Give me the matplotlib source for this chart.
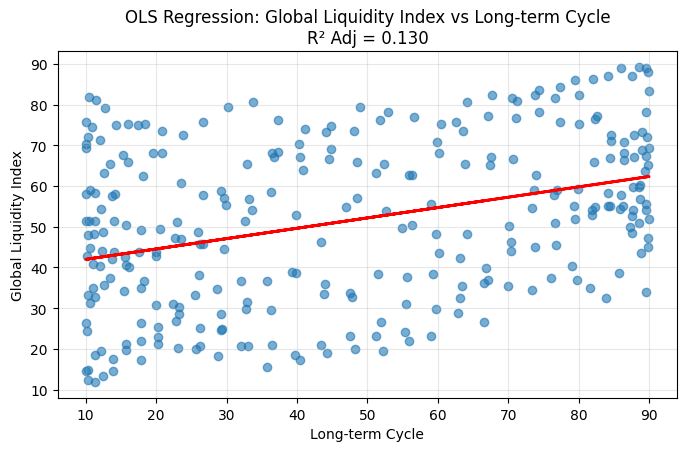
import numpy as np
import matplotlib
matplotlib.use("Agg")
import matplotlib.pyplot as plt

# long-term cycle (x) and global liquidity index (y)
cycle = [
    10.5, 11.5, 12.7, 10.1, 10.9, 14.3, 16.0, 17.4, 18.4, 20.8,
    23.8, 26.7, 30.2, 33.7, 10.3, 12.1, 10.0, 10.0, 15.3, 16.0,
    13.5, 12.6, 19.6, 20.8, 18.2, 23.5, 32.9, 10.0, 10.6, 11.3,
    13.8, 14.2, 12.2, 26.7, 29.2, 29.6, 29.9, 33.2, 33.6, 36.3,
    10.0, 10.5, 11.3, 14.0, 15.7, 17.8, 20.6, 22.9, 32.6,
    10.3, 11.2, 12.4, 22.7, 23.6, 25.9, 26.3, 26.6, 29.7, 10.6,
    12.3, 14.0, 10.2, 13.7, 15.6, 17.6, 20.0, 20.0, 11.0, 12.1,
    15.7, 16.1, 13.5, 26.1, 12.6, 11.1, 18.3, 17.8, 15.4, 10.3,
    11.3, 10.6, 25.5, 28.7, 32.1, 35.7, 20.0, 22.4, 23.3, 23.3,
    22.8, 32.9, 32.8, 36.3, 29.2, 10.0, 10.2, 17.9, 20.2, 20.2,
    20.2, 26.2, 29.2, 29.4, 15.7, 15.7, 17.9, 23.1, 25.7, 26.3,
    32.1, 33.0, 36.4, 12.2, 11.3, 13.9, 17.8, 28.8, 10.0, 10.3,
    13.9, 12.4, 10.4, 11.3, 35.8,
    37.3, 48.9, 52.9, 51.8, 56.6, 64.1, 41.1, 44.1, 44.9, 48.1,
    60.4, 62.6, 63.6, 36.4, 37.3, 36.8, 40.3, 40.5, 40.8, 44.8,
    44.5, 48.5, 51.2, 52.3, 55.9, 56.4, 59.9, 60.1, 63.9, 39.9,
    47.0, 48.5, 52.6, 59.0, 54.9, 56.4,
    59.7, 64.1, 60.2, 63.1, 43.4, 39.3, 39.9, 44.0, 43.9, 47.5,
    47.8, 51.5, 55.6, 59.3, 63.4, 63.1, 62.8, 59.7, 55.5, 51.9,
    55.3, 55.9, 51.2, 59.1, 47.5, 43.4, 44.2, 48.2, 52.2, 39.7,
    40.4,
    67.7, 70.6, 71.2, 73.8, 74.3, 76.6, 77.4, 79.5, 80.0, 82.1,
    84.2, 86.0, 87.6, 88.6, 89.5, 89.9, 90.0, 89.6, 67.1, 71.1,
    74.4, 77.4, 80.1, 82.3, 82.6, 84.6, 84.6, 86.4, 87.8, 89.0,
    89.7, 90.0, 89.0, 89.6, 87.9, 86.5, 86.4, 84.4, 82.2, 67.6,
    67.4, 70.7, 73.9, 89.9, 89.4, 73.6, 76.9, 76.5, 79.9, 84.2,
    86.0, 87.7, 88.7, 88.6, 88.7, 89.5, 73.4, 79.3, 81.9, 82.3,
    81.9, 84.1, 84.5, 85.9, 86.3, 87.7, 87.5, 89.6, 90.0, 88.6,
    87.3, 70.1, 76.6, 79.5,
    87.5, 70.4, 70.4, 73.8, 76.8, 89.9, 89.9, 88.8, 66.9, 66.6,
    67.1, 70.0, 73.4, 76.1, 79.0, 79.7, 81.6, 83.9, 85.7, 89.6,
    66.6,
]
liquidity = [
    81.9, 81.1, 79.2, 75.8, 74.6, 75.0, 75.3, 75.0, 75.3, 73.6,
    72.6, 75.7, 79.4, 80.7, 72.0, 71.4, 70.3, 69.4, 67.5, 66.0,
    65.4, 63.3, 68.2, 68.2, 62.4, 60.7, 65.3, 58.0, 58.9, 58.2,
    57.5, 58.0, 54.3, 57.7, 58.8, 57.0, 55.3, 56.9, 54.1, 58.5,
    51.4, 51.4, 51.5, 51.3, 50.4, 49.3, 49.4, 51.2, 51.4,
    48.0, 48.1, 48.6, 47.2, 46.9, 48.6, 45.8, 45.8, 44.6, 44.7,
    44.1, 43.7, 42.9, 42.0, 42.5, 43.9, 43.7, 42.7, 40.8, 40.4,
    40.5, 40.2, 37.4, 38.2, 35.7, 35.0, 36.7, 35.0, 34.3, 33.3,
    32.8, 31.3, 33.3, 34.8, 36.7, 36.7, 30.7, 31.1, 30.2, 28.5,
    26.9, 31.5, 29.8, 29.6, 28.5, 26.3, 24.3, 26.3, 25.3, 23.0,
    21.3, 25.2, 24.7, 24.8, 21.1, 19.7, 21.9, 20.3, 19.9, 20.7,
    20.6, 20.6, 20.9, 19.4, 18.5, 17.6, 17.2, 18.2, 14.6, 14.7,
    14.6, 13.3, 12.4, 11.8, 15.6,
    76.2, 79.4, 78.2, 76.2, 77.0, 80.7, 74.0, 73.3, 74.7, 73.6,
    75.3, 75.7, 73.6, 68.2, 68.4, 67.0, 70.4, 67.0, 63.8, 69.2,
    66.5, 66.0, 63.3, 65.5, 62.8, 62.6, 70.8, 68.0, 65.5, 52.8,
    54.8, 57.0, 53.9, 55.6, 49.8, 50.3,
    48.2, 48.2, 43.5, 42.4, 46.2, 38.9, 38.6, 35.9, 33.5, 33.8,
    32.8, 38.4, 37.6, 38.4, 35.5, 32.6, 28.9, 29.9, 30.9, 26.5,
    24.1, 21.9, 23.1, 23.1, 23.1, 20.9, 18.9, 19.9, 19.4, 18.5,
    17.2,
    82.3, 81.5, 80.9, 82.3, 83.5, 81.6, 84.2, 86.0, 82.3, 86.3,
    86.9, 88.9, 86.9, 89.2, 88.9, 87.9, 83.3, 78.2, 77.2, 76.7,
    78.2, 75.7, 75.2, 76.4, 77.2, 72.4, 71.1, 70.7, 72.5, 73.3,
    72.1, 69.4, 68.9, 67.4, 67.2, 68.0, 66.4, 66.8, 65.9, 67.0,
    65.2, 66.7, 62.8, 65.1, 63.6, 59.1, 59.1, 57.9, 59.3, 58.2,
    57.8, 59.7, 60.2, 59.7, 56.9, 55.5, 54.7, 55.0, 54.2, 54.9,
    52.8, 55.2, 55.2, 54.3, 55.2, 54.2, 52.6, 54.0, 52.0, 51.0,
    50.0, 50.1, 51.0, 51.8,
    48.4, 46.3, 44.1, 45.0, 45.4, 47.2, 45.0, 43.6, 39.9, 36.2,
    37.0, 35.5, 34.5, 37.4, 40.3, 37.0, 35.0, 32.6, 38.6, 34.0,
    26.7,
]
r2_adj = 0.130

x = np.array(cycle)
y = np.array(liquidity)

# simple OLS fit
slope, intercept = np.polyfit(x, y, 1)
y_pred = intercept + slope * x

fig = plt.figure(figsize=(6.86, 4.52), dpi=100)
ax = fig.add_axes([57.5/686, 1-399/452, (677.3-57.5)/686, (399-52.3)/452])
ax.scatter(x, y, alpha=0.6)
ax.plot(x, y_pred, color='red', linewidth=2)
ax.set_xlabel('Long-term Cycle')
ax.set_ylabel('Global Liquidity Index')
ax.set_title(f'OLS Regression: Global Liquidity Index vs Long-term Cycle\nR² Adj = {r2_adj:.3f}')
ax.grid(True, alpha=0.3)
fig.savefig('out.png', dpi=100)
